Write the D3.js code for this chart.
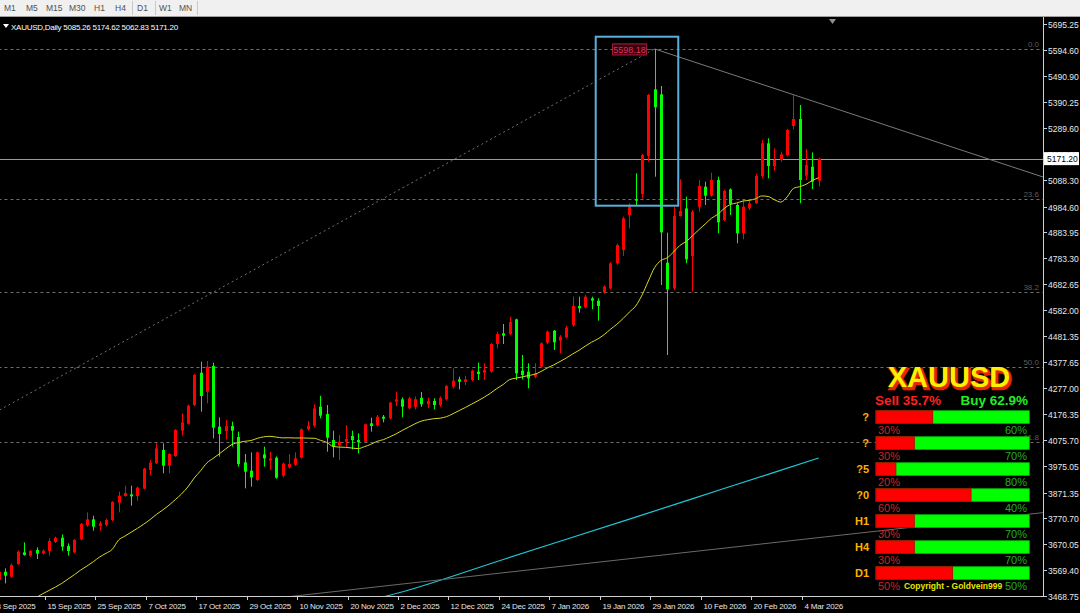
<!DOCTYPE html>
<html><head><meta charset="utf-8">
<script src="https://cdn.jsdelivr.net/npm/d3@7/dist/d3.min.js"></script>
<style>
html,body{margin:0;padding:0;background:#000;overflow:hidden}
svg{display:block}
text{font-family:"Liberation Sans",Arial,sans-serif}
</style></head><body>
<svg id="c" width="1080" height="613"></svg>
<script>
// ---------------- DATA ----------------
const symbol = "XAUUSD";
const timeframeLabel = "Daily";
const timeframes = ["M1","M5","M15","M30","H1","H4","D1","W1","MN"];
const opens = [3531.0,3563.4,3543.9,3593.3,3638.7,3625.7,3647.7,3634.7,3643.8,3678.9,
3695.7,3663.3,3638.7,3689.3,3745.1,3767.1,3741.2,3745.1,3764.5,3832.0,
3857.9,3864.4,3857.9,3886.5,3959.1,3985.1,4037.0,3976.0,4013.7,4112.3,
4139.5,4212.2,4338.0,4264.1,4363.9,4127.8,4110.9,4130.4,4087.6,3989.0,
3956.6,3920.2,4020.1,3995.5,4007.2,3937.1,3969.5,3979.9,4007.2,4117.4,
4131.7,4205.7,4177.1,4075.9,4055.2,4069.4,4091.5,4075.9,4069.4,4140.8,
4133.0,4166.8,4160.3,4225.2,4234.2,4199.2,4205.0,4240.0,4215.0,4228.0,
4212.0,4234.3,4283.6,4312.1,4302.0,4309.5,4342.0,4338.0,4341.9,4449.6,
4491.2,4488.6,4545.6,4345.8,4342.0,4322.5,4361.4,4454.8,4501.5,4462.6,
4475.6,4523.6,4597.6,4592.4,4627.4,4618.3,4649.5,4666.3,4763.6,4815.5,
4951.8,5014.1,5033.5,5181.4,5440.9,5421.5,4766.2,4666.3,4947.9,4977.7,
4792.2,4984.2,5062.1,5027.0,5088.0,4932.3,5051.7,4990.7,4880.4,4977.7,
4997.2,5103.6,5230.7,5142.5,5165.9,5185.3,5298.2,5325.5,5104.9,5139.9,5085.26];
const highs = [3572.5,3576.4,3595.0,3646.0,3677.6,3648.0,3658.1,3650.0,3693.1,3700.0,
3708.7,3673.7,3690.0,3753.0,3794.4,3781.4,3760.6,3770.0,3838.0,3874.8,
3898.2,3898.2,3894.3,3968.0,3998.1,4062.9,4062.9,4024.0,4118.0,4179.7,
4214.0,4333.0,4380.9,4383.4,4376.9,4164.2,4153.8,4147.3,4108.4,4021.4,
4027.9,4031.0,4050.0,4030.5,4012.0,3988.0,4021.4,4027.9,4121.0,4149.9,
4214.8,4248.0,4212.2,4112.3,4095.4,4134.3,4112.3,4101.9,4140.0,4162.9,
4173.2,4173.2,4225.0,4264.1,4242.0,4245.0,4245.0,4263.0,4240.0,4238.0,
4246.0,4290.0,4354.9,4322.5,4325.0,4350.0,4377.0,4374.0,4453.0,4497.6,
4527.5,4556.0,4548.2,4406.8,4374.4,4374.4,4456.0,4502.0,4504.1,4484.7,
4521.0,4633.9,4633.9,4640.4,4633.9,4627.4,4678.0,4768.0,4840.0,4945.3,
4997.2,5114.0,5189.3,5422.8,5598.18,5453.9,4883.0,4984.2,5090.6,5023.1,
4971.3,5088.0,5081.5,5116.6,5101.0,5050.0,5055.6,4997.2,5010.2,5014.1,
5111.4,5243.7,5250.2,5211.3,5198.3,5287.0,5418.9,5380.0,5208.7,5195.7,5174.62];
const lows = [3520.6,3518.0,3540.0,3590.0,3625.7,3622.0,3612.7,3630.0,3625.7,3675.0,
3645.1,3625.7,3635.0,3686.0,3738.6,3723.0,3723.0,3740.0,3760.0,3794.4,
3855.3,3820.3,3839.8,3884.0,3939.7,3982.5,3946.2,3946.2,4010.0,4092.8,
4136.0,4208.0,4186.2,4218.7,4082.4,4011.1,4078.5,4050.0,3972.1,3887.8,
3894.3,3917.0,3972.1,3959.1,3925.0,3930.0,3965.7,3976.0,4004.0,4112.3,
4125.2,4160.3,4030.5,4008.5,3998.1,4050.0,4039.6,4024.0,4066.0,4108.4,
4127.8,4144.7,4157.0,4208.3,4164.2,4195.0,4195.0,4205.0,4200.0,4195.0,
4205.0,4230.0,4277.1,4273.2,4290.0,4305.0,4309.5,4309.5,4338.0,4432.8,
4449.6,4484.7,4309.5,4312.1,4277.1,4316.0,4356.0,4450.0,4426.3,4413.3,
4471.7,4517.1,4571.6,4588.5,4584.6,4540.5,4645.0,4662.0,4758.0,4792.2,
4899.9,4990.7,5016.6,5159.4,5100.9,4679.3,4406.8,4659.8,4945.3,4763.6,
4653.4,4964.8,4990.7,5023.1,4880.4,4928.0,4951.8,4841.5,4857.1,4971.3,
4994.6,5094.5,5094.5,5124.3,5159.4,5180.0,5285.2,4997.2,5088.0,5053.0,5062.83];
const closes = [3563.4,3547.9,3589.3,3641.3,3628.3,3643.8,3633.5,3645.1,3682.8,3695.7,
3660.7,3643.8,3686.7,3749.0,3767.1,3738.6,3751.6,3764.5,3834.6,3859.2,
3869.6,3856.6,3890.4,3964.4,3987.7,4043.5,3976.0,4021.4,4114.8,4144.7,
4209.6,4328.9,4247.2,4361.4,4123.9,4099.3,4130.4,4112.3,3982.5,3952.7,
3930.6,4027.9,4004.6,4004.6,3929.3,3983.8,3982.5,4004.6,4117.4,4131.7,
4199.2,4170.6,4085.0,4050.0,4069.4,4079.8,4075.9,4066.8,4136.9,4130.4,
4166.8,4159.0,4221.3,4234.2,4205.7,4238.1,4235.0,4215.0,4228.0,4212.0,
4240.0,4286.2,4306.9,4303.0,4312.0,4345.8,4332.8,4348.4,4449.6,4488.6,
4482.1,4535.3,4335.5,4329.0,4316.0,4335.5,4452.2,4497.6,4456.1,4478.2,
4513.2,4597.6,4588.5,4633.9,4618.3,4597.6,4672.8,4763.6,4835.0,4938.8,
4984.2,5007.6,5185.3,5418.9,5370.9,4884.3,4662.4,4947.9,4967.4,4779.2,
4964.8,5064.7,5027.0,5088.0,4923.2,5045.2,4994.6,4880.4,4984.2,4997.2,
5103.6,5230.7,5142.5,5165.9,5187.9,5282.6,5325.5,5088.0,5146.4,5081.5,5171.20];
// yellow moving average (20) for the first bars
const maPeriod = 20;
const maLead = [3385,3398,3411,3423,3435,3447,3463.5,3477.8,3490.7,3503.7,
3518,3534.8,3551.7,3569.9,3585.5,3602.3,3620.5,3634.8,3650.3];
// cyan long moving average, read at some bars
const cyanIdx = [58,65,80,100,115,130];
const cyanVal = [3446,3492,3611,3768,3887,4006];
// trend lines: [barIndex, price] anchor pairs
const trendDown = [[104,5598.18],[165.1,5103.6]];
const trendUp = [[44.1,3461],[165.1,3792]];
// fibonacci retracement
const fibLow = [-79,3122];
const fibHigh = [104,5598.18];
const fibLevels = [0,23.6,38.2,50.0,61.8];
// highlighted rectangle [barIndex, price]
const rectA = [94.66,5645.8];
const rectB = [107.75,4988.0];
const priceTicks = [5695.25,5594.60,5490.90,5390.25,5289.60,5188.95,5088.30,4984.60,4883.95,4783.30,
4682.65,4582.00,4481.35,4377.65,4277.00,4176.35,4075.70,3975.05,3871.35,3770.70,3670.05,3569.40,3468.75];
const dateLabels = ["3 Sep 2025","15 Sep 2025","25 Sep 2025","7 Oct 2025","17 Oct 2025","29 Oct 2025",
"10 Nov 2025","20 Nov 2025","2 Dec 2025","12 Dec 2025","24 Dec 2025","7 Jan 2026","19 Jan 2026",
"29 Jan 2026","10 Feb 2026","20 Feb 2026","4 Mar 2026"];
const dateFirstIndex = -1, dateStep = 8;
// panel
const sellPct = 35.7, buyPct = 62.9;
const rowLabels = ["?","?","?5","?0","H1","H4","D1"];
const rowSell = [30,30,20,60,30,30,50];
const rowBuy  = [60,70,80,40,70,70,50];
const rowBar  = [37,25,13,62,25,25,50];
const copyright = "Copyright - Goldvein999";

// ---------------- DRAW ----------------
const svg = d3.select("#c");
const W = 1080, H = 613;
const plotL = 0, plotR = 1043, plotT = 17, plotB = 596;
const N = opens.length;
const x = d3.scaleLinear().domain([0, 130]).range([-1.3, 818.6]);
const y = d3.scaleLinear().domain([3468.75, 5695.25]).range([596, 24]);

svg.append("rect").attr("width",W).attr("height",H).attr("fill","#000");
svg.append("defs").append("clipPath").attr("id","plot")
  .append("rect").attr("x",plotL).attr("y",plotT).attr("width",plotR-plotL).attr("height",plotB-plotT);

// toolbar
svg.append("rect").attr("x",0).attr("y",0).attr("width",W).attr("height",16).attr("fill","#f0f0f0");
svg.append("line").attr("x1",0).attr("x2",W).attr("y1",16.5).attr("y2",16.5).attr("stroke","#a0a0a0");
const tbX = [4,26,46,69,94,115,137,159,179];
const tb = svg.append("g");
timeframes.forEach((t,k)=>{
  tb.append("text").attr("x",tbX[k]).attr("y",11).attr("font-size",8.5).attr("fill","#505050").text(t);
});
[132,155,197].forEach(sx=>{
  tb.append("line").attr("x1",sx+0.5).attr("x2",sx+0.5).attr("y1",1).attr("y2",15).attr("stroke","#c8c8c8");
});

const plot = svg.append("g").attr("clip-path","url(#plot)");

// fibonacci levels
const fibRange = fibHigh[1]-fibLow[1];
fibLevels.forEach(l=>{
  const p = fibHigh[1] - l/100*fibRange;
  const yy = Math.round(y(p))+0.5;
  plot.append("line").attr("x1",x(fibLow[0])).attr("x2",plotR).attr("y1",yy).attr("y2",yy)
    .attr("stroke","#6e6e6e").attr("stroke-dasharray","3,3").attr("stroke-width",1);
  svg.append("text").attr("x",plotR-4).attr("y",yy-3).attr("text-anchor","end")
    .attr("font-size",8).attr("fill","#5c5c5c").text(l.toFixed(1));
});
plot.append("line").attr("x1",x(fibLow[0])).attr("y1",y(fibLow[1])).attr("x2",x(fibHigh[0])).attr("y2",y(fibHigh[1]))
  .attr("stroke","#707070").attr("stroke-dasharray","2,3").attr("stroke-width",1);

// current price line
const last = closes[N-1];
plot.append("line").attr("x1",plotL).attr("x2",plotR).attr("y1",Math.round(y(last))+0.5).attr("y2",Math.round(y(last))+0.5)
  .attr("stroke","#9a9a9a").attr("stroke-width",1);

// trend lines
function ray(a,b,color){
  const s = (b[1]-a[1])/(b[0]-a[0]);
  const iEnd = x.invert(plotR+5);
  plot.append("line").attr("x1",x(a[0])).attr("y1",y(a[1])).attr("x2",x(iEnd)).attr("y2",y(a[1]+s*(iEnd-a[0])))
    .attr("stroke",color).attr("stroke-width",1);
}
ray(trendDown[0],trendDown[1],"#7a7a7a");

// candles
const bullCol = "#ff0000", bearCol = "#00ff00";
const cg = plot.append("g");
for(let i=0;i<N;i++){
  const cx = Math.round(x(i));
  const col = closes[i] >= opens[i] ? bullCol : bearCol;
  cg.append("line").attr("x1",cx+0.5).attr("x2",cx+0.5).attr("y1",y(highs[i])).attr("y2",y(lows[i]))
    .attr("stroke",col).attr("stroke-width",1);
  const t = y(Math.max(opens[i],closes[i])), b = y(Math.min(opens[i],closes[i]));
  cg.append("rect").attr("x",cx-1).attr("y",t).attr("width",3).attr("height",Math.max(1.2,b-t)).attr("fill",col);
}

// yellow MA
const ma = closes.map((c,i)=>{
  if(i < maPeriod-1) return maLead[i];
  return d3.mean(closes.slice(i-maPeriod+1,i+1));
});
plot.append("path").datum(ma).attr("fill","none").attr("stroke","#d8d820").attr("stroke-width",1)
  .attr("d",d3.line().x((d,i)=>x(i)).y(d=>y(d)).curve(d3.curveMonotoneX));

// cyan MA
plot.append("path").datum(cyanIdx.map((d,k)=>[d,cyanVal[k]])).attr("fill","none").attr("stroke","#1fc8d8").attr("stroke-width",1.2)
  .attr("d",d3.line().x(d=>x(d[0])).y(d=>y(d[1])).curve(d3.curveMonotoneX));

// rectangle
plot.append("rect").attr("x",x(rectA[0])).attr("y",y(rectA[1]))
  .attr("width",x(rectB[0])-x(rectA[0])).attr("height",y(rectB[1])-y(rectA[1]))
  .attr("fill","none").attr("stroke","#5ab0dc").attr("stroke-width",2);

// high label
const hx = x(fibHigh[0]), hy = y(fibHigh[1]);
plot.append("line").attr("x1",hx-9).attr("x2",hx).attr("y1",Math.round(hy)+0.5).attr("y2",Math.round(hy)+0.5).attr("stroke","#c0203c");
plot.append("rect").attr("x",hx-42).attr("y",hy-5).attr("width",34).attr("height",11)
  .attr("fill","#3a0010").attr("stroke","#b0203c").attr("stroke-width",1);
plot.append("text").attr("x",hx-25).attr("y",hy+4).attr("text-anchor","middle").attr("font-size",9)
  .attr("fill","#e0305a").text(fibHigh[1].toFixed(2));

// panel
const pg = svg.append("g");
const px0 = 876, px1 = 1029.3, pw = px1-px0;
pg.append("text").attr("x",950.5).attr("y",388.5).attr("text-anchor","middle").attr("font-size",29).attr("font-weight","bold")
  .attr("fill","#ff3000").attr("stroke","#e02800").attr("stroke-width",2.5).text(symbol);
pg.append("text").attr("x",949).attr("y",387).attr("text-anchor","middle").attr("font-size",29).attr("font-weight","bold")
  .attr("fill","#ffee00").text(symbol);
pg.append("text").attr("x",875).attr("y",405).attr("font-size",13.5).attr("font-weight","bold").attr("fill","#ff2020").text("Sell "+sellPct+"%");
pg.append("text").attr("x",1028).attr("y",405).attr("text-anchor","end").attr("font-size",13.5).attr("font-weight","bold").attr("fill","#22ee22").text("Buy "+buyPct+"%");
rowLabels.forEach((lab,k)=>{
  const ty = 410.7 + k*26;
  pg.append("rect").attr("x",px0).attr("y",ty).attr("width",pw).attr("height",12.7).attr("fill","#00ff00").attr("stroke","#00b000").attr("stroke-width",0.8);
  pg.append("rect").attr("x",px0).attr("y",ty).attr("width",pw*rowBar[k]/100).attr("height",12.7).attr("fill","#ff0000").attr("stroke","#b00000").attr("stroke-width",0.8);
  pg.append("text").attr("x",869).attr("y",ty+10).attr("text-anchor","end").attr("font-size",11).attr("font-weight","bold").attr("fill","#ffb000").text(lab);
  pg.append("text").attr("x",878).attr("y",ty+23).attr("font-size",11).attr("fill","#d42020").text(rowSell[k]+"%");
  pg.append("text").attr("x",1027).attr("y",ty+23).attr("text-anchor","end").attr("font-size",11).attr("fill","#22b022").text(rowBuy[k]+"%");
});
pg.append("text").attr("x",953).attr("y",589).attr("text-anchor","middle").attr("font-size",8.5).attr("font-weight","bold").attr("fill","#e6e600").text(copyright);

// up trend line drawn over the panel
ray(trendUp[0],trendUp[1],"#6a6a6a");

// axes frame
svg.append("line").attr("x1",plotR+0.5).attr("x2",plotR+0.5).attr("y1",plotT).attr("y2",plotB+0.5).attr("stroke","#d0d0d0");
svg.append("line").attr("x1",0).attr("x2",plotR+0.5).attr("y1",plotB+0.5).attr("y2",plotB+0.5).attr("stroke","#d0d0d0");

// price axis
const ya = svg.append("g");
priceTicks.forEach(p=>{
  const yy = Math.round(y(p))+0.5;
  ya.append("line").attr("x1",plotR).attr("x2",plotR+4).attr("y1",yy).attr("y2",yy).attr("stroke","#d0d0d0");
  ya.append("text").attr("x",plotR+5).attr("y",yy+3).attr("font-size",8.5).attr("fill","#e8e8e8").text(p.toFixed(2));
});
// current price tag
const ly = y(last);
ya.append("rect").attr("x",plotR+1).attr("y",ly-6.5).attr("width",35).attr("height",13).attr("fill","#fff");
ya.append("text").attr("x",plotR+4).attr("y",ly+3.5).attr("font-size",8.5).attr("fill","#000").text(last.toFixed(2));

// date axis
const xa = svg.append("g");
dateLabels.forEach((d,k)=>{
  const xx = Math.round(x(dateFirstIndex + k*dateStep))+2.5;
  xa.append("line").attr("x1",xx).attr("x2",xx).attr("y1",plotB).attr("y2",plotB+4).attr("stroke","#d0d0d0");
  xa.append("text").attr("x",xx+2).attr("y",609).attr("font-size",8).attr("letter-spacing",-0.2).attr("fill","#e8e8e8").text(d);
});

// title
svg.append("path").attr("d","M3,24 L9,24 L6,28 Z").attr("fill","#fff");
svg.append("text").attr("x",11).attr("y",30).attr("font-size",8).attr("letter-spacing",-0.25).attr("fill","#fff")
  .text(symbol+","+timeframeLabel+" "+opens[N-1].toFixed(2)+" "+highs[N-1].toFixed(2)+" "+lows[N-1].toFixed(2)+" "+closes[N-1].toFixed(2));
// chart shift marker
svg.append("path").attr("d","M829,19 L836,19 L832.5,24 Z").attr("fill","#909090");
</script>
</body></html>
